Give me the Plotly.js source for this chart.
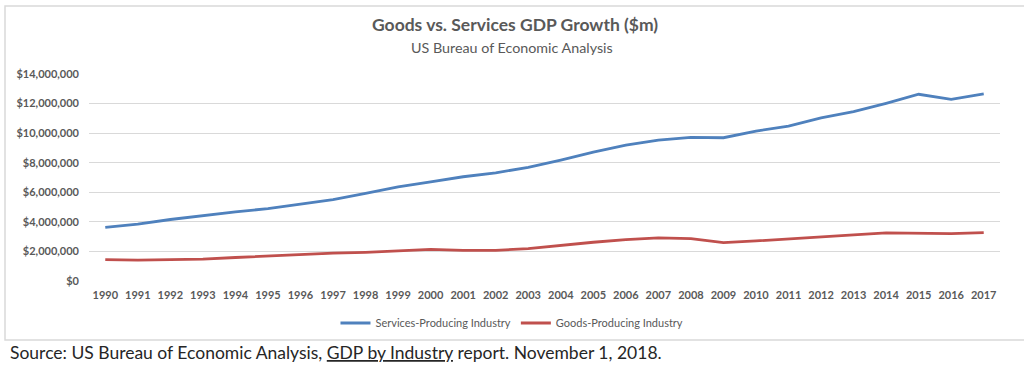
<!DOCTYPE html>
<html>
<head>
<meta charset="utf-8">
<script src="https://cdn.plot.ly/plotly-3.0.1.min.js"></script>
<style>html,body{margin:0;padding:0;background:#fff;}#chart{width:1024px;height:366px;}</style>
</head>
<body>
<div id="chart"></div>
<script>
const years = ["1990","1991","1992","1993","1994","1995","1996","1997","1998","1999","2000","2001","2002","2003","2004","2005","2006","2007","2008","2009","2010","2011","2012","2013","2014","2015","2016","2017"];
const services = [3620000,3840000,4160000,4430000,4670000,4900000,5200000,5510000,5920000,6370000,6710000,7050000,7320000,7680000,8180000,8720000,9190000,9530000,9710000,9690000,10140000,10480000,11040000,11450000,12020000,12630000,12290000,12650000];
const goods = [1450000,1410000,1450000,1480000,1590000,1700000,1810000,1880000,1940000,2030000,2140000,2070000,2070000,2190000,2420000,2620000,2800000,2920000,2870000,2600000,2710000,2860000,2970000,3120000,3250000,3200000,3200000,3270000];
const seriesNames = ["Services-Producing Industry","Goods-Producing Industry"];
const yTicks = [0,2000000,4000000,6000000,8000000,10000000,12000000,14000000];

const FONT = "Lato, 'Open Sans', sans-serif";
const GREY = "#595959";

const traces = [
  {x: years, y: services, name: seriesNames[0], type: "scatter", mode: "lines",
   line: {color: "#4f81bd", width: 2.8}},
  {x: years, y: goods, name: seriesNames[1], type: "scatter", mode: "lines",
   line: {color: "#c0504d", width: 2.8}}
];

const layout = {
  width: 1024, height: 366,
  margin: {l: 89, r: 24, t: 74, b: 85},
  paper_bgcolor: "#fff", plot_bgcolor: "#fff",
  font: {family: FONT, color: GREY},
  showlegend: true,
  title: {text: "<b>Goods vs. Services GDP Growth ($m)</b>", font: {family: FONT, size: 17.5, color: GREY},
          xref: "container", x: 0.503, xanchor: "center", yref: "container", y: 0.932, yanchor: "middle"},
  xaxis: {type: "category", range: [-0.5, 27.5], showgrid: false, zeroline: false, showline: false,
          ticks: "", tickfont: {family: FONT, size: 11, color: GREY, weight: "bold"}, ticklabelstandoff: 6, fixedrange: true},
  yaxis: {range: [0, 14000000], tickvals: yTicks, tickformat: "$,.0f", showgrid: true, gridcolor: "#d9d9d9", gridwidth: 1,
          zeroline: false, showline: false, ticks: "", tickfont: {family: FONT, size: 11, color: GREY, weight: "bold"},
          ticklabelstandoff: 9, fixedrange: true},
  legend: {orientation: "h", xref: "paper", x: 0.4643, xanchor: "center", yref: "paper", y: -0.203, yanchor: "middle",
           font: {family: FONT, size: 11, color: GREY}, itemwidth: 30, tracegroupgap: 0, bgcolor: "rgba(0,0,0,0)"},
  annotations: [
    {text: "US Bureau of Economic Analysis", xref: "paper", x: 0.4643, xanchor: "center", yref: "paper", y: 1.1304, yanchor: "middle",
     showarrow: false, font: {family: FONT, size: 14.3, color: GREY}},
    {text: "Source: US Bureau of Economic Analysis, <u>GDP by Industry</u> report. November 1, 2018.", xref: "paper", x: -0.0889, xanchor: "left",
     yref: "paper", y: -0.3478, yanchor: "middle", showarrow: false, font: {family: FONT, size: 17.5, color: "#262626"}}
  ],
  shapes: [
    {type: "rect", xref: "paper", yref: "paper", x0: -0.0922, x1: 1.03, y0: -0.285, y1: 1.3285,
     line: {color: "#d9d9d9", width: 1.5}, fillcolor: "rgba(0,0,0,0)", layer: "below"}
  ]
};

Plotly.newPlot("chart", traces, layout, {displayModeBar: false, staticPlot: true});
</script>
</body>
</html>
